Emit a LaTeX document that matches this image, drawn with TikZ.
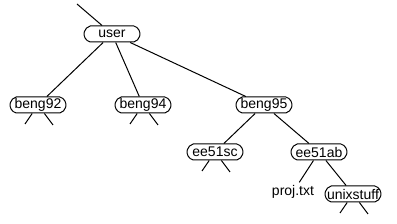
\documentclass[tikz,border=0pt]{standalone}
\usepackage{fontspec}
\setmainfont{Liberation Sans}
\usepackage{tikz}
\usetikzlibrary{
	positioning,
	shapes.misc
}

\begin{document}
\begin{tikzpicture}[
		x=0.75pt,y=-0.75pt,
		line width=0.75pt,
		font=\fontsize{10.5}{12}\selectfont,
		dir/.style={
			draw,
			rounded rectangle,
			rounded rectangle arc length=150,
			minimum width=44pt,
			minimum height=12pt,
			inner xsep=1pt,
			inner ysep=1pt
		},
		file/.style={
			inner sep=2pt
		}
		]
		\useasboundingbox (0,0) rectangle (397,224);
		
		% Directories
		\node[dir] (user) at (112,34) {user};
		\node[dir] (beng92) at (38,105) {beng92};
		\node[dir] (beng94) at (143,105) {beng94};
		\node[dir] (beng95) at (264,105) {beng95};
		\node[dir] (ee51sc) at (215,152) {ee51sc};
		\node[dir] (ee51ab) at (319,152) {ee51ab};
		\node[dir] (unixstuff) at (353,194) {unixstuff};
		
		% Files
		\node[file] (proj) at (293,192) {proj.txt};
		
		% Connections
		\coordinate (root) at (77,4);
		\draw (root) -- (user);
		\draw (user) -- (beng92);
		\draw (user) -- (beng94);
		\draw (user) -- (beng95);
		\draw (beng95) -- (ee51sc);
		\draw (beng95) -- (ee51ab);
		\draw (ee51ab) -- (proj);
		\draw (ee51ab) -- (unixstuff);
		
		% Stubs
		\foreach \n in {beng92,beng94,ee51sc,unixstuff}
		{
			\coordinate (\n-l) at ([shift={(-13,19)}]\n.center);
			\coordinate (\n-r) at ([shift={(15,20)}]\n.center);
			\draw (\n) -- (\n-l);
			\draw (\n) -- (\n-r);
		}
		
	\end{tikzpicture}
\end{document}
